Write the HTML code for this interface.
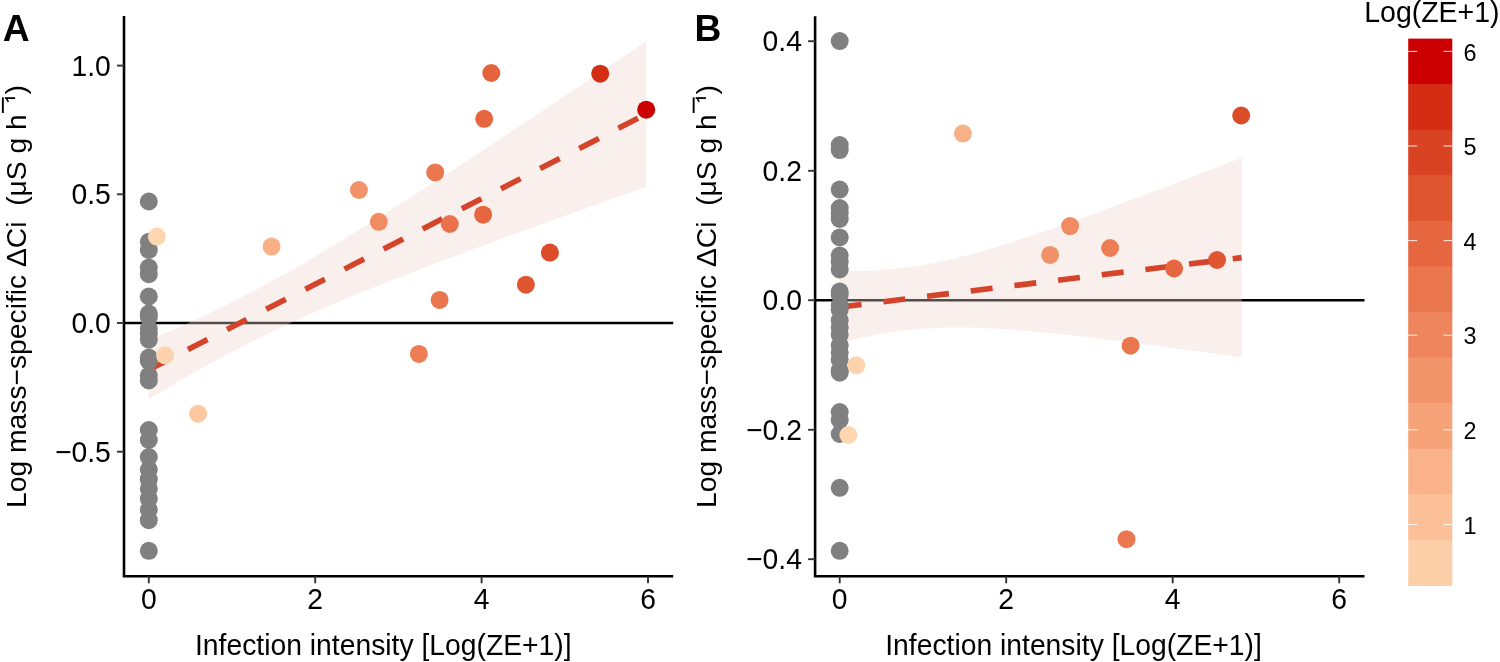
<!DOCTYPE html>
<html><head><meta charset="utf-8"><style>
html,body{margin:0;padding:0;background:#fff;}
body{width:1500px;height:662px;overflow:hidden;}
svg{display:block;will-change:transform;}
.t{font-family:"Liberation Sans",sans-serif;font-size:28.3px;fill:#000;}
.bold{font-family:"Liberation Sans",sans-serif;font-size:37.2px;font-weight:bold;fill:#000;}
.leg{font-family:"Liberation Sans",sans-serif;font-size:23px;fill:#000;}
</style></head><body>
<svg width="1500" height="662" viewBox="0 0 1500 662">
<rect width="1500" height="662" fill="#fff"/>
<line x1="124.0" y1="323.0" x2="673.2" y2="323.0" stroke="#000" stroke-width="2.5"/>
<polygon points="148.8,340.4 157.2,336.8 165.7,333.1 174.1,329.4 182.5,325.7 190.9,321.8 199.4,317.9 207.8,314.0 216.2,309.9 224.7,305.8 233.1,301.6 241.5,297.3 249.9,292.9 258.4,288.5 266.8,283.9 275.2,279.3 283.7,274.6 292.1,269.9 300.5,265.1 308.9,260.2 317.4,255.2 325.8,250.2 334.2,245.1 342.7,240.0 351.1,234.9 359.5,229.6 367.9,224.4 376.4,219.1 384.8,213.8 393.2,208.5 401.7,203.1 410.1,197.7 418.5,192.3 427.0,186.9 435.4,181.4 443.8,175.9 452.2,170.4 460.7,164.9 469.1,159.4 477.5,153.9 486.0,148.3 494.4,142.8 502.8,137.2 511.2,131.6 519.7,126.0 528.1,120.4 536.5,114.8 545.0,109.2 553.4,103.6 561.8,98.0 570.2,92.3 578.7,86.7 587.1,81.1 595.5,75.4 604.0,69.8 612.4,64.1 620.8,58.4 629.2,52.8 637.7,47.1 646.1,41.4 646.1,186.8 637.7,189.7 629.2,192.7 620.8,195.7 612.4,198.8 604.0,201.8 595.5,204.8 587.1,207.8 578.7,210.8 570.2,213.8 561.8,216.9 553.4,219.9 545.0,223.0 536.5,226.0 528.1,229.1 519.7,232.2 511.2,235.2 502.8,238.3 494.4,241.4 486.0,244.5 477.5,247.6 469.1,250.8 460.7,253.9 452.2,257.1 443.8,260.2 435.4,263.4 427.0,266.6 418.5,269.8 410.1,273.1 401.7,276.4 393.2,279.7 384.8,283.0 376.4,286.3 367.9,289.7 359.5,293.1 351.1,296.6 342.7,300.1 334.2,303.7 325.8,307.3 317.4,310.9 308.9,314.6 300.5,318.4 292.1,322.2 283.7,326.1 275.2,330.1 266.8,334.2 258.4,338.3 249.9,342.5 241.5,346.8 233.1,351.2 224.7,355.6 216.2,360.2 207.8,364.8 199.4,369.5 190.9,374.2 182.5,379.1 174.1,384.0 165.7,388.9 157.2,394.0 148.8,399.0" fill="rgb(238,211,202)" fill-opacity="0.36"/>
<line x1="148.8" y1="369.7" x2="646.1" y2="114.1" stroke="#d4442a" stroke-width="5.6" stroke-dasharray="22 22"/>
<circle cx="148.8" cy="201.5" r="9.0" fill="#808080"/>
<circle cx="148.8" cy="241.8" r="9.0" fill="#808080"/>
<circle cx="148.8" cy="250" r="9.0" fill="#808080"/>
<circle cx="148.8" cy="267.6" r="9.0" fill="#808080"/>
<circle cx="148.8" cy="274.2" r="9.0" fill="#808080"/>
<circle cx="148.8" cy="296.5" r="9.0" fill="#808080"/>
<circle cx="148.8" cy="313.5" r="9.0" fill="#808080"/>
<circle cx="148.8" cy="317" r="9.0" fill="#808080"/>
<circle cx="148.8" cy="328.5" r="9.0" fill="#808080"/>
<circle cx="148.8" cy="334" r="9.0" fill="#808080"/>
<circle cx="148.8" cy="339.7" r="9.0" fill="#808080"/>
<circle cx="148.8" cy="357.5" r="9.0" fill="#808080"/>
<circle cx="148.8" cy="361" r="9.0" fill="#808080"/>
<circle cx="148.8" cy="375.5" r="9.0" fill="#808080"/>
<circle cx="148.8" cy="380.5" r="9.0" fill="#808080"/>
<circle cx="148.8" cy="430" r="9.0" fill="#808080"/>
<circle cx="148.8" cy="440" r="9.0" fill="#808080"/>
<circle cx="148.8" cy="457" r="9.0" fill="#808080"/>
<circle cx="148.8" cy="469.5" r="9.0" fill="#808080"/>
<circle cx="148.8" cy="479.2" r="9.0" fill="#808080"/>
<circle cx="148.8" cy="488.8" r="9.0" fill="#808080"/>
<circle cx="148.8" cy="498.7" r="9.0" fill="#808080"/>
<circle cx="148.8" cy="509.7" r="9.0" fill="#808080"/>
<circle cx="148.8" cy="520.2" r="9.0" fill="#808080"/>
<circle cx="148.8" cy="550.8" r="9.0" fill="#808080"/>
<circle cx="156.9" cy="236.6" r="9.0" fill="#fed6b0"/>
<circle cx="165.1" cy="355.3" r="9.0" fill="#fdd3ad"/>
<circle cx="198.1" cy="413.7" r="9.0" fill="#fcc8a1"/>
<circle cx="271.6" cy="246.6" r="9.0" fill="#f9b087"/>
<circle cx="358.9" cy="190.0" r="9.0" fill="#f29269"/>
<circle cx="378.8" cy="221.8" r="9.0" fill="#f08b62"/>
<circle cx="418.9" cy="353.9" r="9.0" fill="#ec7d54"/>
<circle cx="435.2" cy="172.4" r="9.0" fill="#ea774f"/>
<circle cx="439.6" cy="299.9" r="9.0" fill="#ea764d"/>
<circle cx="449.8" cy="224.0" r="9.0" fill="#e9724a"/>
<circle cx="483.1" cy="214.7" r="9.0" fill="#e5663f"/>
<circle cx="484.2" cy="118.8" r="9.0" fill="#e5663f"/>
<circle cx="491.3" cy="73.0" r="9.0" fill="#e4633c"/>
<circle cx="525.9" cy="284.7" r="9.0" fill="#df5631"/>
<circle cx="549.9" cy="252.6" r="9.0" fill="#dc4c29"/>
<circle cx="600.2" cy="73.7" r="9.0" fill="#d42f14"/>
<circle cx="646.2" cy="109.7" r="9.0" fill="#cc0000"/>
<path d="M124.0,16.0 V576.3 H673.2" fill="none" stroke="#000" stroke-width="2.6" stroke-linejoin="miter" stroke-linecap="butt"/>
<line x1="117.0" y1="65.6" x2="124.0" y2="65.6" stroke="#333" stroke-width="1.9"/>
<text transform="translate(110.80,75.70) scale(1,1.04)" class="t" text-anchor="end">1.0</text>
<line x1="117.0" y1="194.3" x2="124.0" y2="194.3" stroke="#333" stroke-width="1.9"/>
<text transform="translate(110.80,204.40) scale(1,1.04)" class="t" text-anchor="end">0.5</text>
<line x1="117.0" y1="323.0" x2="124.0" y2="323.0" stroke="#333" stroke-width="1.9"/>
<text transform="translate(110.80,333.10) scale(1,1.04)" class="t" text-anchor="end">0.0</text>
<line x1="117.0" y1="451.7" x2="124.0" y2="451.7" stroke="#333" stroke-width="1.9"/>
<text transform="translate(110.80,461.80) scale(1,1.04)" class="t" text-anchor="end">−0.5</text>
<line x1="148.8" y1="576.3" x2="148.8" y2="583.3" stroke="#333" stroke-width="1.9"/>
<text transform="translate(148.80,609.00) scale(1,1.04)" class="t" text-anchor="middle">0</text>
<line x1="315.2" y1="576.3" x2="315.2" y2="583.3" stroke="#333" stroke-width="1.9"/>
<text transform="translate(315.20,609.00) scale(1,1.04)" class="t" text-anchor="middle">2</text>
<line x1="481.6" y1="576.3" x2="481.6" y2="583.3" stroke="#333" stroke-width="1.9"/>
<text transform="translate(481.60,609.00) scale(1,1.04)" class="t" text-anchor="middle">4</text>
<line x1="648.0" y1="576.3" x2="648.0" y2="583.3" stroke="#333" stroke-width="1.9"/>
<text transform="translate(648.00,609.00) scale(1,1.04)" class="t" text-anchor="middle">6</text>
<line x1="815.1" y1="300.25" x2="1364.5" y2="300.25" stroke="#000" stroke-width="2.5"/>
<polygon points="839.7,271.1 846.5,271.2 853.3,271.1 860.1,271.0 866.9,270.8 873.8,270.5 880.6,270.1 887.4,269.6 894.2,268.9 901.0,268.2 907.8,267.3 914.6,266.3 921.4,265.2 928.3,264.0 935.1,262.7 941.9,261.3 948.7,259.8 955.5,258.2 962.3,256.5 969.1,254.7 975.9,252.9 982.7,250.9 989.6,249.0 996.4,246.9 1003.2,244.8 1010.0,242.7 1016.8,240.5 1023.6,238.3 1030.4,236.1 1037.2,233.8 1044.1,231.5 1050.9,229.1 1057.7,226.7 1064.5,224.4 1071.3,221.9 1078.1,219.5 1084.9,217.0 1091.7,214.6 1098.6,212.1 1105.4,209.6 1112.2,207.1 1119.0,204.6 1125.8,202.0 1132.6,199.5 1139.4,196.9 1146.2,194.4 1153.0,191.8 1159.9,189.2 1166.7,186.6 1173.5,184.0 1180.3,181.4 1187.1,178.8 1193.9,176.2 1200.7,173.6 1207.5,170.9 1214.4,168.3 1221.2,165.7 1228.0,163.0 1234.8,160.4 1241.6,157.8 1241.6,357.4 1234.8,356.5 1228.0,355.5 1221.2,354.5 1214.4,353.6 1207.5,352.6 1200.7,351.7 1193.9,350.8 1187.1,349.8 1180.3,348.9 1173.5,348.0 1166.7,347.0 1159.9,346.1 1153.0,345.2 1146.2,344.3 1139.4,343.4 1132.6,342.6 1125.8,341.7 1119.0,340.8 1112.2,340.0 1105.4,339.2 1098.6,338.3 1091.7,337.5 1084.9,336.7 1078.1,336.0 1071.3,335.2 1064.5,334.5 1057.7,333.8 1050.9,333.1 1044.1,332.4 1037.2,331.8 1030.4,331.2 1023.6,330.6 1016.8,330.0 1010.0,329.5 1003.2,329.1 996.4,328.7 989.6,328.3 982.7,328.0 975.9,327.8 969.1,327.6 962.3,327.5 955.5,327.5 948.7,327.6 941.9,327.7 935.1,328.0 928.3,328.4 921.4,328.8 914.6,329.4 907.8,330.1 901.0,330.9 894.2,331.9 887.4,332.9 880.6,334.0 873.8,335.3 866.9,336.7 860.1,338.1 853.3,339.7 846.5,341.4 839.7,343.1" fill="rgb(238,211,202)" fill-opacity="0.36"/>
<line x1="839.7" y1="307.1" x2="1241.6" y2="257.6" stroke="#d4442a" stroke-width="5.6" stroke-dasharray="22 22"/>
<circle cx="839.7" cy="41.1" r="9.0" fill="#808080"/>
<circle cx="839.7" cy="145.1" r="9.0" fill="#808080"/>
<circle cx="839.7" cy="150.1" r="9.0" fill="#808080"/>
<circle cx="839.7" cy="189.6" r="9.0" fill="#808080"/>
<circle cx="839.7" cy="208" r="9.0" fill="#808080"/>
<circle cx="839.7" cy="213" r="9.0" fill="#808080"/>
<circle cx="839.7" cy="219" r="9.0" fill="#808080"/>
<circle cx="839.7" cy="237.4" r="9.0" fill="#808080"/>
<circle cx="839.7" cy="255.5" r="9.0" fill="#808080"/>
<circle cx="839.7" cy="262" r="9.0" fill="#808080"/>
<circle cx="839.7" cy="269.4" r="9.0" fill="#808080"/>
<circle cx="839.7" cy="291.5" r="9.0" fill="#808080"/>
<circle cx="839.7" cy="294.7" r="9.0" fill="#808080"/>
<circle cx="839.7" cy="305.3" r="9.0" fill="#808080"/>
<circle cx="839.7" cy="309.7" r="9.0" fill="#808080"/>
<circle cx="839.7" cy="320.3" r="9.0" fill="#808080"/>
<circle cx="839.7" cy="327.5" r="9.0" fill="#808080"/>
<circle cx="839.7" cy="334.7" r="9.0" fill="#808080"/>
<circle cx="839.7" cy="345.3" r="9.0" fill="#808080"/>
<circle cx="839.7" cy="352.5" r="9.0" fill="#808080"/>
<circle cx="839.7" cy="359.7" r="9.0" fill="#808080"/>
<circle cx="839.7" cy="370.3" r="9.0" fill="#808080"/>
<circle cx="839.7" cy="372.7" r="9.0" fill="#808080"/>
<circle cx="839.7" cy="412" r="9.0" fill="#808080"/>
<circle cx="839.7" cy="420" r="9.0" fill="#808080"/>
<circle cx="839.7" cy="434" r="9.0" fill="#808080"/>
<circle cx="839.7" cy="487.8" r="9.0" fill="#808080"/>
<circle cx="839.7" cy="550.8" r="9.0" fill="#808080"/>
<circle cx="962.9" cy="133.6" r="9.0" fill="#f8b087"/>
<circle cx="1050.1" cy="254.9" r="9.0" fill="#f29268"/>
<circle cx="1070.1" cy="226.1" r="9.0" fill="#f08b62"/>
<circle cx="1110.1" cy="248.0" r="9.0" fill="#ec7d54"/>
<circle cx="1174.1" cy="268.5" r="9.0" fill="#e5663f"/>
<circle cx="1217.1" cy="260.0" r="9.0" fill="#df5631"/>
<circle cx="1130.6" cy="345.7" r="9.0" fill="#ea764d"/>
<circle cx="1126.5" cy="539.2" r="9.0" fill="#ea774f"/>
<circle cx="1241.2" cy="115.5" r="9.0" fill="#dc4c29"/>
<circle cx="856.3" cy="365.3" r="9.0" fill="#fdd3ad"/>
<circle cx="848.4" cy="435.0" r="9.0" fill="#fed6b0"/>
<path d="M815.1,16.2 V576.3 H1364.5" fill="none" stroke="#000" stroke-width="2.6" stroke-linejoin="miter" stroke-linecap="butt"/>
<line x1="808.1" y1="41.2" x2="815.1" y2="41.2" stroke="#333" stroke-width="1.9"/>
<text transform="translate(801.90,51.35) scale(1,1.04)" class="t" text-anchor="end">0.4</text>
<line x1="808.1" y1="170.8" x2="815.1" y2="170.8" stroke="#333" stroke-width="1.9"/>
<text transform="translate(801.90,180.85) scale(1,1.04)" class="t" text-anchor="end">0.2</text>
<line x1="808.1" y1="300.2" x2="815.1" y2="300.2" stroke="#333" stroke-width="1.9"/>
<text transform="translate(801.90,310.35) scale(1,1.04)" class="t" text-anchor="end">0.0</text>
<line x1="808.1" y1="429.8" x2="815.1" y2="429.8" stroke="#333" stroke-width="1.9"/>
<text transform="translate(801.90,439.85) scale(1,1.04)" class="t" text-anchor="end">−0.2</text>
<line x1="808.1" y1="559.2" x2="815.1" y2="559.2" stroke="#333" stroke-width="1.9"/>
<text transform="translate(801.90,569.35) scale(1,1.04)" class="t" text-anchor="end">−0.4</text>
<line x1="839.7" y1="576.3" x2="839.7" y2="583.3" stroke="#333" stroke-width="1.9"/>
<text transform="translate(839.70,609.00) scale(1,1.04)" class="t" text-anchor="middle">0</text>
<line x1="1006.2" y1="576.3" x2="1006.2" y2="583.3" stroke="#333" stroke-width="1.9"/>
<text transform="translate(1006.20,609.00) scale(1,1.04)" class="t" text-anchor="middle">2</text>
<line x1="1172.7" y1="576.3" x2="1172.7" y2="583.3" stroke="#333" stroke-width="1.9"/>
<text transform="translate(1172.70,609.00) scale(1,1.04)" class="t" text-anchor="middle">4</text>
<line x1="1339.2" y1="576.3" x2="1339.2" y2="583.3" stroke="#333" stroke-width="1.9"/>
<text transform="translate(1339.20,609.00) scale(1,1.04)" class="t" text-anchor="middle">6</text>
<text transform="translate(383.30,654.60) scale(1,1.04)" class="t" text-anchor="middle">Infection intensity [Log(ZE+1)]</text>
<text transform="translate(1073.50,654.60) scale(1,1.04)" class="t" text-anchor="middle">Infection intensity [Log(ZE+1)]</text>
<text x="2.8" y="40.5" class="bold">A</text>
<text x="694.6" y="40.5" class="bold">B</text>
<text transform="translate(25.50,507.90) rotate(-90) scale(1,1.0)" class="t" style="font-size:28.24px">Log mass−specific ΔCi&#160; (μS g h</text>
<text transform="translate(716.30,507.90) rotate(-90) scale(1,1.0)" class="t" style="font-size:28.24px">Log mass−specific ΔCi&#160; (μS g h</text>
<text transform="translate(25.30,94.40) rotate(-90) scale(1,1.0)" class="t">)</text>
<rect x="1.9" y="97.4" width="1.9" height="15.6" fill="#000"/>
<rect x="4.9" y="97.2" width="10.2" height="1.8" fill="#000"/>
<line x1="6.7" y1="99" x2="8.4" y2="101.9" stroke="#000" stroke-width="1.5"/>
<text transform="translate(716.10,94.40) rotate(-90) scale(1,1.0)" class="t">)</text>
<rect x="692.7" y="97.4" width="1.9" height="15.6" fill="#000"/>
<rect x="695.7" y="97.2" width="10.2" height="1.8" fill="#000"/>
<line x1="697.5" y1="99" x2="699.2" y2="101.9" stroke="#000" stroke-width="1.5"/>
<text transform="translate(1364.20,21.90) scale(1,1.04)" class="t" style="font-size:28.5px">Log(ZE+1)</text>
<rect x="1408.2" y="38.60" width="44.1" height="46.17" fill="#cc0000"/>
<rect x="1408.2" y="84.17" width="44.1" height="46.17" fill="#d32c12"/>
<rect x="1408.2" y="129.73" width="44.1" height="46.17" fill="#d94222"/>
<rect x="1408.2" y="175.30" width="44.1" height="46.17" fill="#df5530"/>
<rect x="1408.2" y="220.87" width="44.1" height="46.17" fill="#e5663f"/>
<rect x="1408.2" y="266.43" width="44.1" height="46.17" fill="#ea764d"/>
<rect x="1408.2" y="312.00" width="44.1" height="46.17" fill="#ee855c"/>
<rect x="1408.2" y="357.57" width="44.1" height="46.17" fill="#f2946a"/>
<rect x="1408.2" y="403.13" width="44.1" height="46.17" fill="#f6a379"/>
<rect x="1408.2" y="448.70" width="44.1" height="46.17" fill="#f9b289"/>
<rect x="1408.2" y="494.27" width="44.1" height="46.17" fill="#fbc098"/>
<rect x="1408.2" y="539.83" width="44.1" height="46.17" fill="#fdcfa8"/>
<line x1="1408.2" y1="524.5" x2="1417.2" y2="524.5" stroke="#fff" stroke-opacity="0.8" stroke-width="1.1"/>
<line x1="1443.4" y1="524.5" x2="1452.3" y2="524.5" stroke="#fff" stroke-opacity="0.8" stroke-width="1.1"/>
<text transform="translate(1463.60,533.67) scale(1,1.02)" class="leg" style="font-size:23.4px">1</text>
<line x1="1408.2" y1="429.8" x2="1417.2" y2="429.8" stroke="#fff" stroke-opacity="0.8" stroke-width="1.1"/>
<line x1="1443.4" y1="429.8" x2="1452.3" y2="429.8" stroke="#fff" stroke-opacity="0.8" stroke-width="1.1"/>
<text transform="translate(1463.60,439.05) scale(1,1.02)" class="leg" style="font-size:23.4px">2</text>
<line x1="1408.2" y1="335.2" x2="1417.2" y2="335.2" stroke="#fff" stroke-opacity="0.8" stroke-width="1.1"/>
<line x1="1443.4" y1="335.2" x2="1452.3" y2="335.2" stroke="#fff" stroke-opacity="0.8" stroke-width="1.1"/>
<text transform="translate(1463.60,344.43) scale(1,1.02)" class="leg" style="font-size:23.4px">3</text>
<line x1="1408.2" y1="240.6" x2="1417.2" y2="240.6" stroke="#fff" stroke-opacity="0.8" stroke-width="1.1"/>
<line x1="1443.4" y1="240.6" x2="1452.3" y2="240.6" stroke="#fff" stroke-opacity="0.8" stroke-width="1.1"/>
<text transform="translate(1463.60,249.81) scale(1,1.02)" class="leg" style="font-size:23.4px">4</text>
<line x1="1408.2" y1="146.0" x2="1417.2" y2="146.0" stroke="#fff" stroke-opacity="0.8" stroke-width="1.1"/>
<line x1="1443.4" y1="146.0" x2="1452.3" y2="146.0" stroke="#fff" stroke-opacity="0.8" stroke-width="1.1"/>
<text transform="translate(1463.60,155.19) scale(1,1.02)" class="leg" style="font-size:23.4px">5</text>
<line x1="1408.2" y1="51.4" x2="1417.2" y2="51.4" stroke="#fff" stroke-opacity="0.8" stroke-width="1.1"/>
<line x1="1443.4" y1="51.4" x2="1452.3" y2="51.4" stroke="#fff" stroke-opacity="0.8" stroke-width="1.1"/>
<text transform="translate(1463.60,60.57) scale(1,1.02)" class="leg" style="font-size:23.4px">6</text>
</svg>
</body></html>
